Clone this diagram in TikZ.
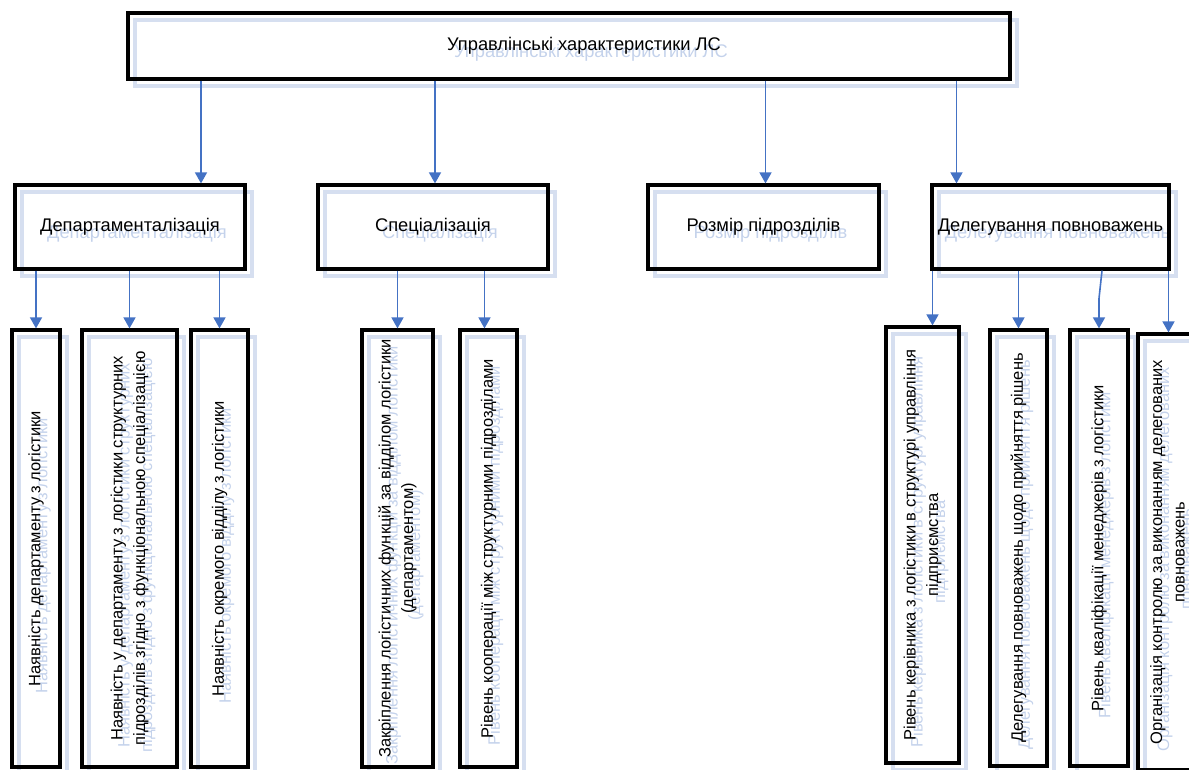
\documentclass[tikz,border=0pt]{standalone}
\usepackage{fontspec}
\setmainfont{Liberation Sans}
\usetikzlibrary{arrows.meta,backgrounds}

\definecolor{linkblue}{RGB}{68,114,196}
\definecolor{shadeblue}{RGB}{214,223,240}
\definecolor{ghostblue}{RGB}{196,210,235}

\tikzset{
  box/.style={draw, line width=3.2pt, inner sep=2pt, align=center,
    font=\fontsize{18.3}{23}\selectfont},
  vbox/.style={box, rotate=90, font=\fontsize{16.5}{22.5}\selectfont},
  shade/.style={draw=shadeblue, text=ghostblue},
  link/.style={linkblue, line width=1.6pt, -{Triangle[width=12pt,length=11pt]}},
}

\begin{document}
\begin{tikzpicture}[x=1pt,y=-1pt]
  \clip (0,0) rectangle (1189,769);

  % top box
  \node[box, minimum width=882pt, minimum height=66pt] (top) at (569,46)
    {\hspace*{30pt}Управлінські характеристики ЛС};

  % second row
  \node[box, minimum width=230pt, minimum height=84pt] (dep)   at (130,227)   {Департаменталізація};
  \node[box, minimum width=230pt, minimum height=84pt] (spec)  at (433,227)   {Спеціалізація};
  \node[box, minimum width=231pt, minimum height=84pt] (size)  at (763.5,227) {Розмір підрозділів};
  \node[box, minimum width=237pt, minimum height=84pt] (deleg) at (1050.5,227) {Делегування повноважень};

  % third row, text turned upright
  \node[vbox, minimum width=437pt, minimum height=48pt] (dep1) at (36,548.5)
    {Наявність департаменту з логістики};
  \node[vbox, minimum width=437pt, minimum height=95pt] (dep2) at (129.5,548.5)
    {Наявність у департаменту з логістики структурних\\підрозділів згідно з функціональною спеціалізацією};
  \node[vbox, minimum width=437pt, minimum height=57pt] (dep3) at (219.5,548.5)
    {Наявність окремого відділу з логістики};
  \node[vbox, minimum width=437pt, minimum height=71pt] (spec1) at (397.5,548.5)
    {Закріплення логістичних функцій за відділом логістики\\(департаментом)};
  \node[vbox, minimum width=437pt, minimum height=57pt] (spec2) at (488.5,548.5)
    {Рівень кооперації між структурними підрозділами};
  \node[vbox, minimum width=436pt, minimum height=73pt] (del1) at (922.5,545)
    {Рівень керівника з логістики в структурі управління\\підприємства};
  \node[vbox, minimum width=436pt, minimum height=57pt] (del2) at (1018.5,548)
    {Делегування повноважень щодо прийняття рішень};
  \node[vbox, minimum width=436pt, minimum height=58pt] (del3) at (1099,548)
    {Рівень кваліфікації менеджерів з логістики};
  \node[vbox, minimum width=436pt, minimum height=59pt] (del4) at (1167.5,552)
    {Організація контролю за виконанням делегованих\\повноважень};

  % pale copies behind the boxes
  \begin{scope}[on background layer]
    \node[box, shade, minimum width=882pt, minimum height=66pt] (topg) at ([shift={(7pt,-7pt)}]top.center)
      {\hspace*{30pt}Управлінські характеристики ЛС};
    \node[box, shade, minimum width=230pt, minimum height=84pt] (depg)   at ([shift={(7pt,-7pt)}]dep.center)   {Департаменталізація};
    \node[box, shade, minimum width=230pt, minimum height=84pt] (specg)  at ([shift={(7pt,-7pt)}]spec.center)  {Спеціалізація};
    \node[box, shade, minimum width=231pt, minimum height=84pt] (sizeg)  at ([shift={(7pt,-7pt)}]size.center)  {Розмір підрозділів};
    \node[box, shade, minimum width=237pt, minimum height=84pt] (delegg) at ([shift={(7pt,-7pt)}]deleg.center) {Делегування повноважень};
    \node[vbox, shade, minimum width=437pt, minimum height=48pt] (dep1g) at ([shift={(7pt,-7pt)}]dep1.center)
      {Наявність департаменту з логістики};
    \node[vbox, shade, minimum width=437pt, minimum height=95pt] (dep2g) at ([shift={(7pt,-7pt)}]dep2.center)
      {Наявність у департаменту з логістики структурних\\підрозділів згідно з функціональною спеціалізацією};
    \node[vbox, shade, minimum width=437pt, minimum height=57pt] (dep3g) at ([shift={(7pt,-7pt)}]dep3.center)
      {Наявність окремого відділу з логістики};
    \node[vbox, shade, minimum width=437pt, minimum height=71pt] (spec1g) at ([shift={(7pt,-7pt)}]spec1.center)
      {Закріплення логістичних функцій за відділом логістики\\(департаментом)};
    \node[vbox, shade, minimum width=437pt, minimum height=57pt] (spec2g) at ([shift={(7pt,-7pt)}]spec2.center)
      {Рівень кооперації між структурними підрозділами};
    \node[vbox, shade, minimum width=436pt, minimum height=73pt] (del1g) at ([shift={(7pt,-7pt)}]del1.center)
      {Рівень керівника з логістики в структурі управління\\підприємства};
    \node[vbox, shade, minimum width=436pt, minimum height=57pt] (del2g) at ([shift={(7pt,-7pt)}]del2.center)
      {Делегування повноважень щодо прийняття рішень};
    \node[vbox, shade, minimum width=436pt, minimum height=58pt] (del3g) at ([shift={(7pt,-7pt)}]del3.center)
      {Рівень кваліфікації менеджерів з логістики};
    \node[vbox, shade, minimum width=436pt, minimum height=59pt] (del4g) at ([shift={(7pt,-7pt)}]del4.center)
      {Організація контролю за виконанням делегованих\\повноважень};
  \end{scope}

  % arrows
  \draw[link] ([xshift=71pt]dep.north |- top.south)   -- ([xshift=71pt]dep.north);
  \draw[link] ([xshift=2pt]spec.north |- top.south)   -- ([xshift=2pt]spec.north);
  \draw[link] ([xshift=2pt]size.north |- top.south)   -- ([xshift=2pt]size.north);
  \draw[link] ([xshift=-94pt]deleg.north |- top.south) -- ([xshift=-94pt]deleg.north);

  \draw[link] (dep1.east |- dep.south) -- (dep1.east);
  \draw[link] (dep2.east |- dep.south) -- (dep2.east);
  \draw[link] (dep3.east |- dep.south) -- (dep3.east);
  \draw[link] (spec1.east |- spec.south) -- (spec1.east);
  \draw[link] ([xshift=-4pt]spec2.east |- spec.south) -- ([xshift=-4pt]spec2.east);
  \draw[link] ([xshift=10pt]del1.east |- deleg.south) -- ([xshift=10pt]del1.east);
  \draw[link] (del2.east |- deleg.south) -- (del2.east);
  \draw[link] ([xshift=3pt]del3.east |- deleg.south) -- ([yshift=30pt]del3.east) -- (del3.east);
  \draw[link] ([xshift=1pt]del4.east |- deleg.south) -- ([xshift=1pt]del4.east);
\end{tikzpicture}
\end{document}
